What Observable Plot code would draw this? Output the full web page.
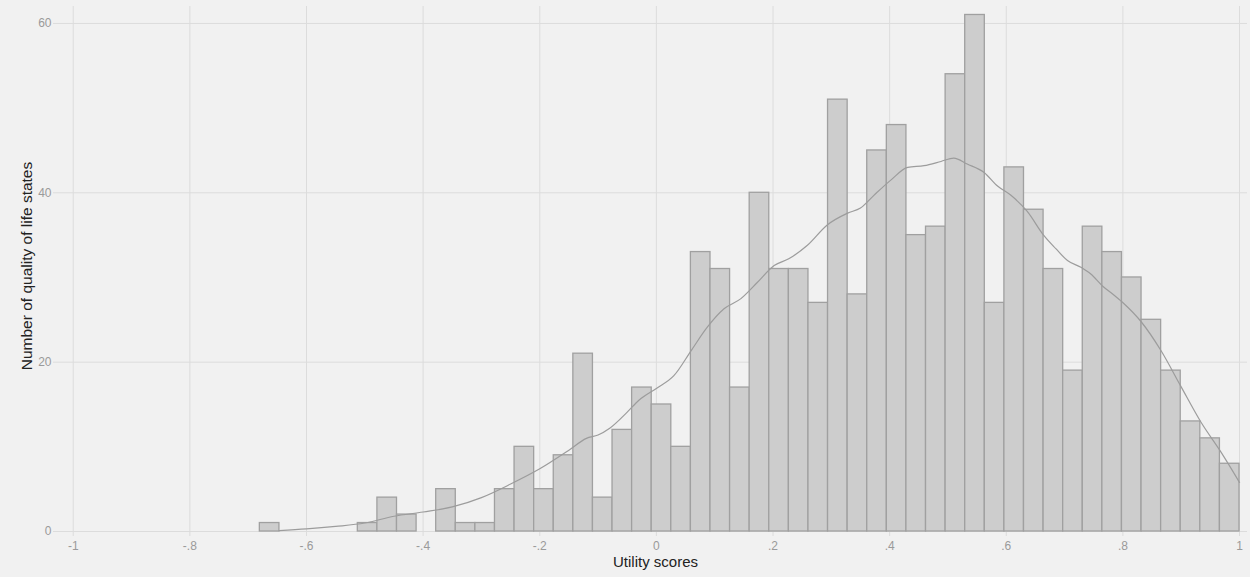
<!DOCTYPE html>
<html>
<head>
<meta charset="utf-8">
<script src="https://cdn.jsdelivr.net/npm/d3@7"></script>
<script src="https://cdn.jsdelivr.net/npm/@observablehq/plot@0.6"></script>
<style>
  html, body { margin: 0; padding: 0; background: #f1f1f1; }
  #chart { width: 1250px; height: 577px; }
  svg { font-family: "Liberation Sans", Arial, sans-serif; }
</style>
</head>
<body>
<div id="chart"></div>
<script>
// Histogram bin edges (Stata: 50 bins starting at min)
const binEdges = [-0.68, -0.6464, -0.6128, -0.5792, -0.5456, -0.512, -0.4784, -0.4448, -0.4112, -0.3776,
  -0.344, -0.3104, -0.2768, -0.2432, -0.2096, -0.176, -0.1424, -0.1088, -0.0752, -0.0416,
  -0.008, 0.0256, 0.0592, 0.0928, 0.1264, 0.16, 0.1936, 0.2272, 0.2608, 0.2944,
  0.328, 0.3616, 0.3952, 0.4288, 0.4624, 0.496, 0.5296, 0.5632, 0.5968, 0.6304,
  0.664, 0.6976, 0.7312, 0.7648, 0.7984, 0.832, 0.8656, 0.8992, 0.9328, 0.9664, 1.0];

const binCounts = [1, 0, 0, 0, 0, 1, 4, 2, 0, 5,
  1, 1, 5, 10, 5, 9, 21, 4, 12, 17,
  15, 10, 33, 31, 17, 40, 31, 31, 27, 51,
  28, 45, 48, 35, 36, 54, 61, 27, 43, 38,
  31, 19, 36, 33, 30, 25, 19, 13, 11, 8];

// Kernel density overlay (scaled to counts)
const densX = [-0.647, -0.6, -0.55, -0.5, -0.45, -0.4, -0.35, -0.3, -0.25, -0.2,
  -0.15, -0.12, -0.1, -0.08, -0.05, -0.03, 0.0, 0.03, 0.06, 0.087,
  0.116, 0.145, 0.173, 0.202, 0.227, 0.259, 0.293, 0.328, 0.35, 0.373,
  0.402, 0.431, 0.459, 0.488, 0.51, 0.533, 0.562, 0.585, 0.608, 0.636,
  0.664, 0.685, 0.705, 0.728, 0.745, 0.765, 0.785, 0.802, 0.831, 0.865,
  0.899, 0.934, 0.968, 1.0];
const densY = [0.1, 0.3, 0.6, 1.0, 1.8, 2.3, 2.9, 4.0, 5.6, 7.4,
  9.6, 11.0, 11.4, 12.2, 14.1, 15.5, 16.9, 18.4, 21.4, 24.1,
  26.3, 27.5, 29.4, 31.4, 32.2, 33.8, 36.2, 37.6, 38.2, 39.7,
  41.5, 43.0, 43.2, 43.7, 44.1, 43.4, 42.4, 40.8, 39.7, 37.8,
  35.0, 33.4, 32.0, 31.2, 30.4, 29.0, 27.9, 26.9, 24.8, 21.4,
  17.2, 12.9, 9.4, 5.8];

const xTicks = [-1, -0.8, -0.6, -0.4, -0.2, 0, 0.2, 0.4, 0.6, 0.8, 1];
const xTickLabels = ["-1", "-.8", "-.6", "-.4", "-.2", "0", ".2", ".4", ".6", ".8", "1"];
const yTicks = [0, 20, 40, 60];

const xTitle = "Utility scores";
const yTitle = "Number of quality of life states";

const bars = binCounts
  .map((c, i) => ({x1: binEdges[i], x2: binEdges[i + 1], count: c}))
  .filter(d => d.count > 0);
const dens = densX.map((x, i) => ({x, y: densY[i]}));

const gridColor = "#dcdcdc";
const tickText = "#9a9a9a";

const chart = Plot.plot({
  width: 1250,
  height: 577,
  marginLeft: 57,
  marginRight: 3,
  marginTop: 6,
  marginBottom: 46,
  style: {background: "#f1f1f1", fontFamily: "'Liberation Sans', Arial, sans-serif"},
  x: {domain: [-1.027, 1.0137]},
  y: {domain: [0, 62]},
  marks: [
    Plot.gridY(yTicks, {stroke: gridColor, strokeOpacity: 1, strokeWidth: 1}),
    Plot.gridX(xTicks, {stroke: gridColor, strokeOpacity: 1, strokeWidth: 1}),
    Plot.axisX(xTicks, {
      tickFormat: (d, i) => xTickLabels[i],
      tickSize: 5, tickPadding: 5, stroke: gridColor, fill: tickText,
      fontSize: 12, label: null
    }),
    Plot.axisY(yTicks, {
      tickSize: 4, tickPadding: 2, stroke: gridColor, fill: tickText,
      fontSize: 12, label: null
    }),
    Plot.rectY(bars, {
      x1: "x1", x2: "x2", y1: 0, y2: "count",
      fill: "#cdcdcd", stroke: "#a0a0a0", strokeWidth: 1.3
    }),
    Plot.line(dens, {x: "x", y: "y", stroke: "#9c9c9c", strokeWidth: 1.2, curve: "monotone-x"}),
    Plot.text([xTitle], {frameAnchor: "bottom", dy: 35, dx: 3, fontSize: 15, fill: "#222"}),
    Plot.text([yTitle], {frameAnchor: "left", textAnchor: "middle", rotate: -90, dx: -30, dy: -3, fontSize: 15.5, fill: "#222"})
  ]
});
document.getElementById("chart").appendChild(chart);
</script>
</body>
</html>
